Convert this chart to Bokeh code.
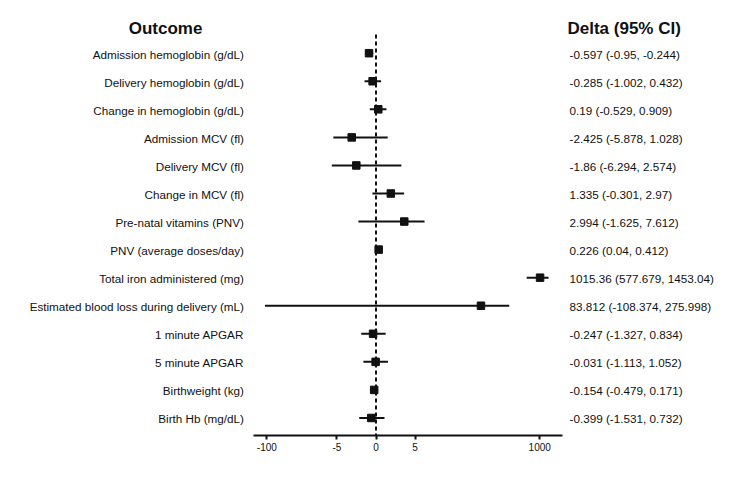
import numpy as np
from bokeh.plotting import figure
from bokeh.models import ColumnDataSource, Range1d, FixedTicker, CustomJSTickFormatter
from bokeh.core.properties import value
from bokeh.embed import file_html
from bokeh.resources import INLINE

# ---- data -------------------------------------------------------------
outcomes = [
    "Admission hemoglobin (g/dL)",
    "Delivery hemoglobin (g/dL)",
    "Change in hemoglobin (g/dL)",
    "Admission MCV (fl)",
    "Delivery MCV (fl)",
    "Change in MCV (fl)",
    "Pre-natal vitamins (PNV)",
    "PNV (average doses/day)",
    "Total iron administered (mg)",
    "Estimated blood loss during delivery (mL)",
    "1 minute APGAR",
    "5 minute APGAR",
    "Birthweight (kg)",
    "Birth Hb (mg/dL)",
]
delta = [-0.597, -0.285, 0.19, -2.425, -1.86, 1.335, 2.994, 0.226,
         1015.36, 83.812, -0.247, -0.031, -0.154, -0.399]
ci_low = [-0.95, -1.002, -0.529, -5.878, -6.294, -0.301, -1.625, 0.04,
          577.679, -108.374, -1.327, -1.113, -0.479, -1.531]
ci_high = [-0.244, 0.432, 0.909, 1.028, 2.574, 2.97, 7.612, 0.412,
           1453.04, 275.998, 0.834, 1.052, 0.171, 0.732]
tick_values = [-100, -5, 0, 5, 1000]


def to_axis(v):
    """Inverse-hyperbolic-sine axis: linear near zero, logarithmic far out."""
    return np.arcsinh(np.asarray(v, dtype=float) / 2.0)


# ---- layout (pixels) --------------------------------------------------
W, H = 750, 480
ZERO_PX = 375.5        # horizontal position of the zero line
PX_PER_UNIT = 23.7     # pixels per asinh unit
FRAME_H = 435          # frame bottom == axis line
ROW0_PX = 52.7         # first row centre
ROW_STEP = 28.06       # row pitch


def px_x(px):
    return (px - ZERO_PX) / PX_PER_UNIT


def px_y(py):
    return (py - ROW0_PX) / ROW_STEP


rows = list(range(len(outcomes)))
ci_text = [f"{d:g} ({lo:g}, {hi:g})" for d, lo, hi in zip(delta, ci_low, ci_high)]

src = ColumnDataSource(dict(
    row=rows,
    outcome=outcomes,
    est=to_axis(delta),
    lo=to_axis(ci_low),
    hi=to_axis(ci_high),
    ci_text=ci_text,
))

p = figure(
    width=W, height=H,
    x_range=Range1d(px_x(0), px_x(W)),
    y_range=Range1d(px_y(FRAME_H), px_y(0)),
    output_backend="svg", toolbar_location=None,
    y_axis_location=None,
    min_border_left=0, min_border_right=0, min_border_top=0,
    min_border_bottom=H - FRAME_H,
    outline_line_color=None,
)
p.xgrid.visible = False
p.ygrid.visible = False

INK = "#111111"
FONT = "Liberation Sans"

# zero reference line
p.segment(x0=[0], x1=[0], y0=[px_y(34)], y1=[px_y(FRAME_H)],
          line_color=INK, line_width=2, line_dash="4 3")

# confidence intervals and point estimates
p.segment(x0="lo", x1="hi", y0="row", y1="row", source=src,
          line_color=INK, line_width=2)
p.scatter(x="est", y="row", source=src, marker="square", size=7.5,
          fill_color=INK, line_color=INK)

# row labels and estimate text
p.text(x=px_x(243.5), y="row", text="outcome", source=src,
       text_align="right", text_baseline="middle", y_offset=1,
       text_font=value(FONT), text_font_size="11.7px", text_color=INK)
p.text(x=px_x(569), y="row", text="ci_text", source=src,
       text_align="left", text_baseline="middle", y_offset=1,
       text_font=value(FONT), text_font_size="11.7px", text_color=INK)

# column headers
p.text(x=[px_x(165)], y=[px_y(28)], text=["Outcome"],
       text_align="center", text_baseline="middle",
       text_font=value(FONT), text_font_size="17px",
       text_font_style="bold", text_color=INK)
p.text(x=[px_x(567)], y=[px_y(28)], text=["Delta (95% CI)"],
       text_align="left", text_baseline="middle",
       text_font=value(FONT), text_font_size="17px",
       text_font_style="bold", text_color=INK)

# x axis
ax = p.xaxis[0]
ax.ticker = FixedTicker(ticks=[float(t) for t in to_axis(tick_values)])
ax.formatter = CustomJSTickFormatter(code="return String(Math.round(2 * Math.sinh(tick)));")
ax.bounds = (px_x(252.7), px_x(562.3))
ax.axis_line_color = INK
ax.axis_line_width = 2
ax.major_tick_line_color = INK
ax.major_tick_line_width = 2
ax.major_tick_out = 4
ax.major_tick_in = 0
ax.minor_tick_line_color = None
ax.major_label_standoff = 3
ax.major_label_text_font = FONT
ax.major_label_text_font_size = "10px"
ax.major_label_text_color = INK

open("out.html", "w").write(file_html(p, INLINE))
